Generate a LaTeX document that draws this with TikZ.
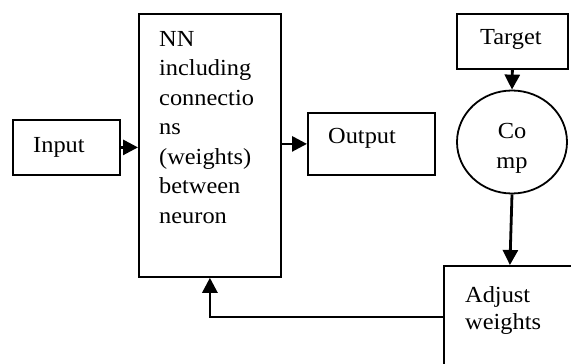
\documentclass[tikz,border=0pt]{standalone}
\usepackage{fontspec}
\setmainfont{Liberation Serif}[FakeStretch=1.06]
\usepackage{tikz}
\usetikzlibrary{arrows.meta,shapes.geometric}
\tikzset{
  blk/.style={draw, line width=1.8pt, inner sep=0pt, anchor=north west},
  txt/.style={inner sep=0pt, anchor=base west, align=left, font=\fontsize{23}{29.5}\selectfont},
  link/.style={line width=2.8pt, -{Triangle[length=15pt,width=15pt]}}
}

\begin{document}
\begin{tikzpicture}[x=1pt,y=-1pt]
\clip (0,0) rectangle (571,364);
\fill[white] (0,0) rectangle (571,364);
\node[blk, minimum width=107, minimum height=55] (input) at (12,119) {};
\node[blk, minimum width=142, minimum height=263] (nn) at (138,13) {};
\node[blk, minimum width=127, minimum height=62] (output) at (307,112) {};
\node[blk, minimum width=111, minimum height=55] (target) at (456,13) {};
\node[draw, line width=1.8pt, ellipse, minimum width=110, minimum height=103] (comp) at (512,142) {};
\node[blk, minimum width=132, minimum height=102] (adjust) at (443,265) {};
\node[txt] (inputtxt) at (33,152) {Input};
\node[txt] (nntxt) at (159,223) {NN\\including\\connectio\\ns\\(weights)\\between\\neuron};
\node[txt] (outputtxt) at (328,143) {Output};
\node[txt] (targettxt) at (480,45) {Target};
\node[txt, align=center, anchor=base] (comptxt) at (512,168) {Co\\mp};
\node[txt, font=\fontsize{23}{27}\selectfont] (adjusttxt) at (465,329) {Adjust\\weights};
\draw[link] (input.east) -- (input.east -| nn.west);
\draw[link] (output.west -| nn.east) -- (output.west);
\draw[link] (target.south) -- (comp.north);
\draw[link] (comp.south) -- (adjust.north);
\draw[link] (adjust.west) -| (nn.south);
\end{tikzpicture}
\end{document}
